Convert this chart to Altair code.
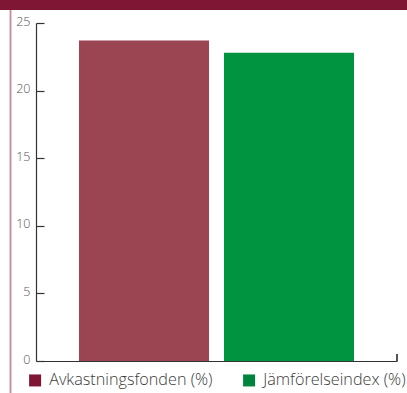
import altair as alt
import pandas as pd

categories = ["Avkastningsfonden (%)", "Jämförelseindex (%)"]
values = [23.7, 22.8]
bar_colors = ["#9B4452", "#009440"]
legend_colors = ["#7F1734", "#00843D"]
y_ticks = [0, 5, 10, 15, 20, 25]

df = pd.DataFrame({"cat": categories, "val": values, "zero": [0, 0]})

W, H = 361, 338
FONT = "Open Sans"

x = alt.X("cat:N", sort=categories,
          scale=alt.Scale(paddingInner=0.1034, paddingOuter=0.2966),
          axis=alt.Axis(title=None, labels=False, ticks=False, domain=True,
                        domainColor="#333333", domainWidth=1.2))
yscale = alt.Scale(domain=[0, 25], nice=False)

legend_bars = alt.Chart(df).mark_bar().encode(
    x=x,
    y=alt.Y("zero:Q", scale=yscale,
            axis=alt.Axis(title=None, values=y_ticks, orient="right", offset=-W,
                          labels=False, domain=False, ticks=True, tickSize=8,
                          tickColor="#333333", tickWidth=1.2, grid=False)),
    color=alt.Color("cat:N", sort=categories,
                    scale=alt.Scale(domain=categories, range=legend_colors),
                    legend=alt.Legend(title=None, orient="none", direction="horizontal",
                                      legendX=-9, legendY=349, symbolType="square",
                                      symbolSize=144,
                                      labelFont=FONT, labelFontSize=16.2, labelFontWeight=300,
                                      labelColor="#3a3a3a", labelLimit=300,
                                      labelOffset=6, columnPadding=28)),
)

bars = alt.Chart(df).mark_bar().encode(
    x=x,
    y=alt.Y("val:Q", scale=yscale,
            axis=alt.Axis(title=None, values=y_ticks, ticks=False, domain=True,
                          domainColor="#333333", domainWidth=1.2, grid=False,
                          labelFont=FONT, labelFontSize=12.5, labelFontWeight=300,
                          labelColor="#555555", labelPadding=6, labelOffset=-2)),
    color=alt.Color("cat:N", sort=categories,
                    scale=alt.Scale(domain=categories, range=bar_colors), legend=None),
)

top_bar = alt.Chart(df).mark_rect(color="#7F1734").encode(
    x=alt.value(-40), x2=alt.value(W + 20), y=alt.value(-30), y2=alt.value(-13)
)
left_line = alt.Chart(df).mark_rule(color="#C98A9A", strokeWidth=1.5).encode(
    x=alt.value(-25.5), y=alt.value(-13), y2=alt.value(H + 40)
)
right_tick = alt.Chart(df).mark_rule(color="#333333", strokeWidth=1.2).encode(
    x=alt.value(W), y=alt.value(H - 7), y2=alt.value(H)
)

chart = alt.layer(top_bar, left_line, legend_bars, bars, right_tick).resolve_axis(
    y="independent"
).resolve_scale(color="independent").properties(
    width=W, height=H,
    padding={"left": 36, "top": 23, "right": 10, "bottom": 32},
    autosize=alt.AutoSizeParams(type="none"),
    background="white",
).configure_view(stroke=None)

chart.save("out.html", embed_options={"renderer": "svg", "actions": False})
